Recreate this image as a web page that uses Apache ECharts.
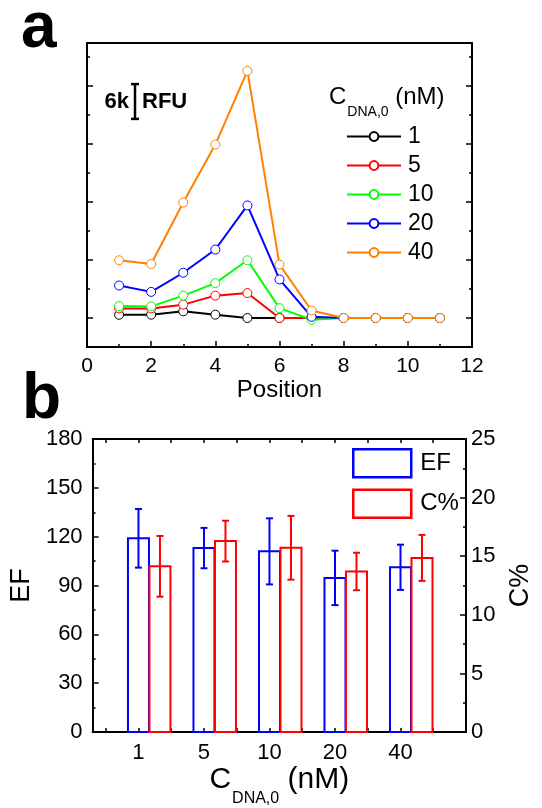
<!DOCTYPE html>
<html>
<head>
<meta charset="utf-8">
<script src="https://cdn.jsdelivr.net/npm/echarts@6/dist/echarts.min.js"></script>
<style>
  html, body { margin: 0; padding: 0; background: #fff; }
  #chart { width: 542px; height: 808px; }
</style>
</head>
<body>
<div id="chart"></div>
<script>
// ---- Panel a: fluorescence along the channel (RFU, thousands) ----
const positions = [1, 2, 3, 4, 5, 6, 7, 8, 9, 10, 11];
const seriesNames = ['1', '5', '10', '20', '40'];
const rfu1  = [0.55, 0.57, 1.15, 0.57, 0, 0, 0, 0, 0, 0, 0];
const rfu5  = [1.65, 1.65, 2.3, 3.85, 4.3, 0, 0, 0, 0, 0, 0];
const rfu10 = [2.05, 2.0, 3.85, 6.0, 9.95, 1.7, -0.3, 0, 0, 0, 0];
const rfu20 = [5.6, 4.5, 7.8, 11.8, 19.4, 6.65, 0.2, 0, 0, 0, 0];
const rfu40 = [9.95, 9.3, 19.9, 29.9, 42.6, 9.2, 1.3, 0, 0, 0, 0];
const scaleBarK = 6; // length of the "6k RFU" scale bar

// ---- Panel b: enrichment factor and capture percentage ----
const concCategories = ['1', '5', '10', '20', '40'];
const efMean = [119, 113, 111, 94.7, 101.2];
const efErr  = [18, 12.4, 20.3, 16.7, 13.9];
const cMean  = [14.14, 16.29, 15.72, 13.7, 14.86];
const cErr   = [2.59, 1.74, 2.72, 1.6, 1.96];

const FONT = "'Liberation Sans', Arial, sans-serif";
const lineColors = ['#000000', '#ff0000', '#00ff00', '#0000ff', '#ff8000'];
const BAR_W = 21;
const CAP = 3.5;

const chart = echarts.init(document.getElementById('chart'), null, { renderer: 'canvas' });

const frameLine = { show: true, onZero: false, lineStyle: { color: '#000', width: 2 } };
const noSplit = { show: false };

function tickAxisY(grid, pos, min, max, values, len) {
  return {
    type: 'value', gridIndex: grid, position: pos, min: min, max: max,
    axisLine: frameLine,
    axisTick: { show: true, inside: true, length: len, customValues: values, lineStyle: { color: '#000', width: 1.5 } },
    axisLabel: { show: false },
    splitLine: noSplit
  };
}

function barRenderer(color, shift) {
  return function (params, api) {
    const x = api.value(0), v = api.value(1), e = api.value(2);
    const top = api.coord([x, v]);
    const base = api.coord([x, 0]);
    const hi = api.coord([x, v + e]);
    const lo = api.coord([x, v - e]);
    const cx = top[0] + shift;
    const st = { stroke: color, lineWidth: 2, fill: null };
    return {
      type: 'group',
      children: [
        { type: 'rect', shape: { x: cx - BAR_W / 2, y: top[1], width: BAR_W, height: base[1] - top[1] }, style: { stroke: color, lineWidth: 2, fill: 'none' } },
        { type: 'line', shape: { x1: cx, y1: hi[1], x2: cx, y2: lo[1] }, style: st },
        { type: 'line', shape: { x1: cx - CAP, y1: hi[1], x2: cx + CAP, y2: hi[1] }, style: st },
        { type: 'line', shape: { x1: cx - CAP, y1: lo[1], x2: cx + CAP, y2: lo[1] }, style: st }
      ]
    };
  };
}

const rfuData = [rfu1, rfu5, rfu10, rfu20, rfu40];
const lineSeries = seriesNames.map((name, i) => ({
  name: name,
  type: 'line',
  xAxisIndex: 0,
  yAxisIndex: 0,
  data: positions.map((p, k) => [p, rfuData[i][k]]),
  symbol: 'circle',
  symbolSize: 9,
  itemStyle: { color: '#fff', borderColor: lineColors[i], borderWidth: 1 },
  lineStyle: { color: lineColors[i], width: 2 },
  emphasis: { disabled: true },
  animation: false,
  z: 3 + i
}));

const halfTicks = [0.5, 1, 1.5, 2, 2.5, 3, 3.5, 4, 4.5, 5, 5.5];

const option = {
  animation: false,
  textStyle: { fontFamily: FONT, color: '#000' },
  grid: [
    { left: 87, top: 43, width: 385, height: 304 },
    { left: 87, top: 439, width: 386, height: 303 }
  ],
  xAxis: [
    {
      type: 'value', gridIndex: 0, position: 'bottom', min: 0, max: 12, interval: 2,
      axisLine: frameLine,
      axisTick: { show: true, inside: true, length: 6, lineStyle: { color: '#000', width: 1.5 } },
      minorTick: { show: true, splitNumber: 2, length: 3, lineStyle: { color: '#000', width: 1.5 } },
      axisLabel: { fontSize: 21, color: '#000', margin: 9, fontFamily: FONT },
      splitLine: noSplit, minorSplitLine: noSplit,
      name: 'Position', nameLocation: 'middle', nameGap: 31,
      nameTextStyle: { fontSize: 24, color: '#000', fontFamily: FONT }
    },
    {
      type: 'value', gridIndex: 0, position: 'top', min: 0, max: 12,
      axisLine: frameLine, axisTick: { show: false }, axisLabel: { show: false }, splitLine: noSplit
    },
    {
      type: 'value', gridIndex: 1, position: 'bottom', min: 0.3, max: 6,
      axisLine: frameLine,
      axisTick: { show: true, inside: true, length: 4, customValues: halfTicks, lineStyle: { color: '#000', width: 1.5 } },
      axisLabel: {
        fontSize: 22, color: '#000', margin: 10, fontFamily: FONT,
        customValues: [1, 2, 3, 4, 5],
        formatter: v => concCategories[Math.round(v) - 1]
      },
      splitLine: noSplit,
      name: '{m|C}{s|DNA,0}{m| (nM)}', nameLocation: 'middle', nameGap: 27,
      nameTextStyle: {
        fontFamily: FONT,
        rich: {
          m: { fontSize: 30, lineHeight: 32, verticalAlign: 'top', fontFamily: FONT, color: '#000' },
          s: { fontSize: 16, lineHeight: 16, padding: [26, 0, 0, 1], verticalAlign: 'top', fontFamily: FONT, color: '#000' }
        }
      }
    },
    {
      type: 'value', gridIndex: 1, position: 'top', min: 0.3, max: 6,
      axisLine: frameLine,
      axisTick: { show: true, inside: true, length: 4, customValues: halfTicks, lineStyle: { color: '#000', width: 1.5 } },
      axisLabel: { show: false }, splitLine: noSplit
    }
  ],
  yAxis: [
    tickAxisY(0, 'left', -5, 47.4, [0, 10, 20, 30, 40], 6),
    tickAxisY(0, 'left', -5, 47.4, [5, 15, 25, 35, 45], 3),
    tickAxisY(0, 'right', -5, 47.4, [0, 10, 20, 30, 40], 6),
    tickAxisY(0, 'right', -5, 47.4, [5, 15, 25, 35, 45], 3),
    {
      type: 'value', gridIndex: 1, position: 'left', min: 0, max: 180, interval: 30,
      axisLine: frameLine,
      axisTick: { show: true, inside: true, length: 6, lineStyle: { color: '#000', width: 1.5 } },
      minorTick: { show: true, splitNumber: 2, length: 3, lineStyle: { color: '#000', width: 1.5 } },
      axisLabel: { fontSize: 22, color: '#000', margin: 10, fontFamily: FONT },
      splitLine: noSplit, minorSplitLine: noSplit,
      name: 'EF', nameLocation: 'middle', nameGap: 52, nameRotate: 90,
      nameTextStyle: { fontSize: 27, color: '#000', fontFamily: FONT }
    },
    {
      type: 'value', gridIndex: 1, position: 'right', min: 0, max: 25, interval: 5,
      axisLine: frameLine,
      axisTick: { show: true, inside: true, length: 6, lineStyle: { color: '#000', width: 1.5 } },
      minorTick: { show: true, splitNumber: 2, length: 3, lineStyle: { color: '#000', width: 1.5 } },
      axisLabel: { fontSize: 22, color: '#000', margin: 5, fontFamily: FONT },
      splitLine: noSplit, minorSplitLine: noSplit,
      name: 'C%', nameLocation: 'middle', nameGap: 41, nameRotate: 90,
      nameTextStyle: { fontSize: 27, color: '#000', fontFamily: FONT }
    }
  ],
  legend: [
    {
      data: seriesNames,
      orient: 'vertical', left: 346, top: 125, padding: 0,
      itemWidth: 54, itemHeight: 11, itemGap: 6,
      textStyle: { fontSize: 23, lineHeight: 23, color: '#000', fontFamily: FONT, padding: [0, 0, 0, 2] },
      selectedMode: false
    },
    {
      data: [
        { name: 'EF', icon: 'rect', itemStyle: { color: 'rgba(255,255,255,0)', borderColor: '#0000ff', borderWidth: 2.5 } },
        { name: 'C%', icon: 'rect', itemStyle: { color: 'rgba(255,255,255,0)', borderColor: '#ff0000', borderWidth: 2.5 } }
      ],
      orient: 'vertical', left: 352, top: 448, padding: 0,
      itemWidth: 58, itemHeight: 28, itemGap: 10,
      textStyle: { fontSize: 24, color: '#000', fontFamily: FONT, padding: [0, 0, 0, 4] },
      selectedMode: false
    }
  ],
  series: lineSeries.concat([
    {
      name: 'EF', type: 'custom', xAxisIndex: 2, yAxisIndex: 4,
      itemStyle: { color: '#0000ff' },
      renderItem: barRenderer('#0000ff', 0),
      data: efMean.map((v, i) => [i + 1, v, efErr[i]]),
      encode: { x: 0, y: 1 }, clip: false, z: 5
    },
    {
      name: 'C%', type: 'custom', xAxisIndex: 2, yAxisIndex: 5,
      itemStyle: { color: '#ff0000' },
      renderItem: barRenderer('#ff0000', BAR_W + 0.5),
      data: cMean.map((v, i) => [i + 1, v, cErr[i]]),
      encode: { x: 0, y: 1 }, clip: false, z: 5
    }
  ])
};

chart.setOption(option);

// Scale bar and panel annotations, sized from the panel-a value axis
const yZero = chart.convertToPixel({ yAxisIndex: 0 }, 0);
const yBar = chart.convertToPixel({ yAxisIndex: 0 }, scaleBarK);
const barLen = Math.abs(yZero - yBar);
const barCx = 135, barCy = 101.5;

chart.setOption({
  graphic: [
    { type: 'text', left: 21, top: -3, style: { text: 'a', font: "bold 64px " + FONT, fill: '#000' } },
    { type: 'text', left: 22, top: 368, style: { text: 'b', font: "bold 64px " + FONT, fill: '#000' } },
    { type: 'text', x: 129, y: barCy, style: { text: '6k', font: "bold 22px " + FONT, fill: '#000', align: 'right', verticalAlign: 'middle' } },
    { type: 'text', x: 142, y: barCy, style: { text: 'RFU', font: "bold 22px " + FONT, fill: '#000', align: 'left', verticalAlign: 'middle' } },
    { type: 'line', shape: { x1: barCx, y1: barCy - barLen / 2, x2: barCx, y2: barCy + barLen / 2 }, style: { stroke: '#000', lineWidth: 2.5 } },
    { type: 'line', shape: { x1: barCx - 4, y1: barCy - barLen / 2, x2: barCx + 4, y2: barCy - barLen / 2 }, style: { stroke: '#000', lineWidth: 2.5 } },
    { type: 'line', shape: { x1: barCx - 4, y1: barCy + barLen / 2, x2: barCx + 4, y2: barCy + barLen / 2 }, style: { stroke: '#000', lineWidth: 2.5 } },
    {
      type: 'text', x: 329, y: 85,
      style: {
        text: '{m|C}{s|DNA,0}{m| (nM)}',
        rich: {
          m: { fontSize: 24, lineHeight: 26, verticalAlign: 'top', fontFamily: FONT, fill: '#000' },
          s: { fontSize: 14, lineHeight: 14, padding: [20, 0, 0, 1], verticalAlign: 'top', fontFamily: FONT, fill: '#000' }
        }
      }
    }
  ]
});
</script>
</body>
</html>
